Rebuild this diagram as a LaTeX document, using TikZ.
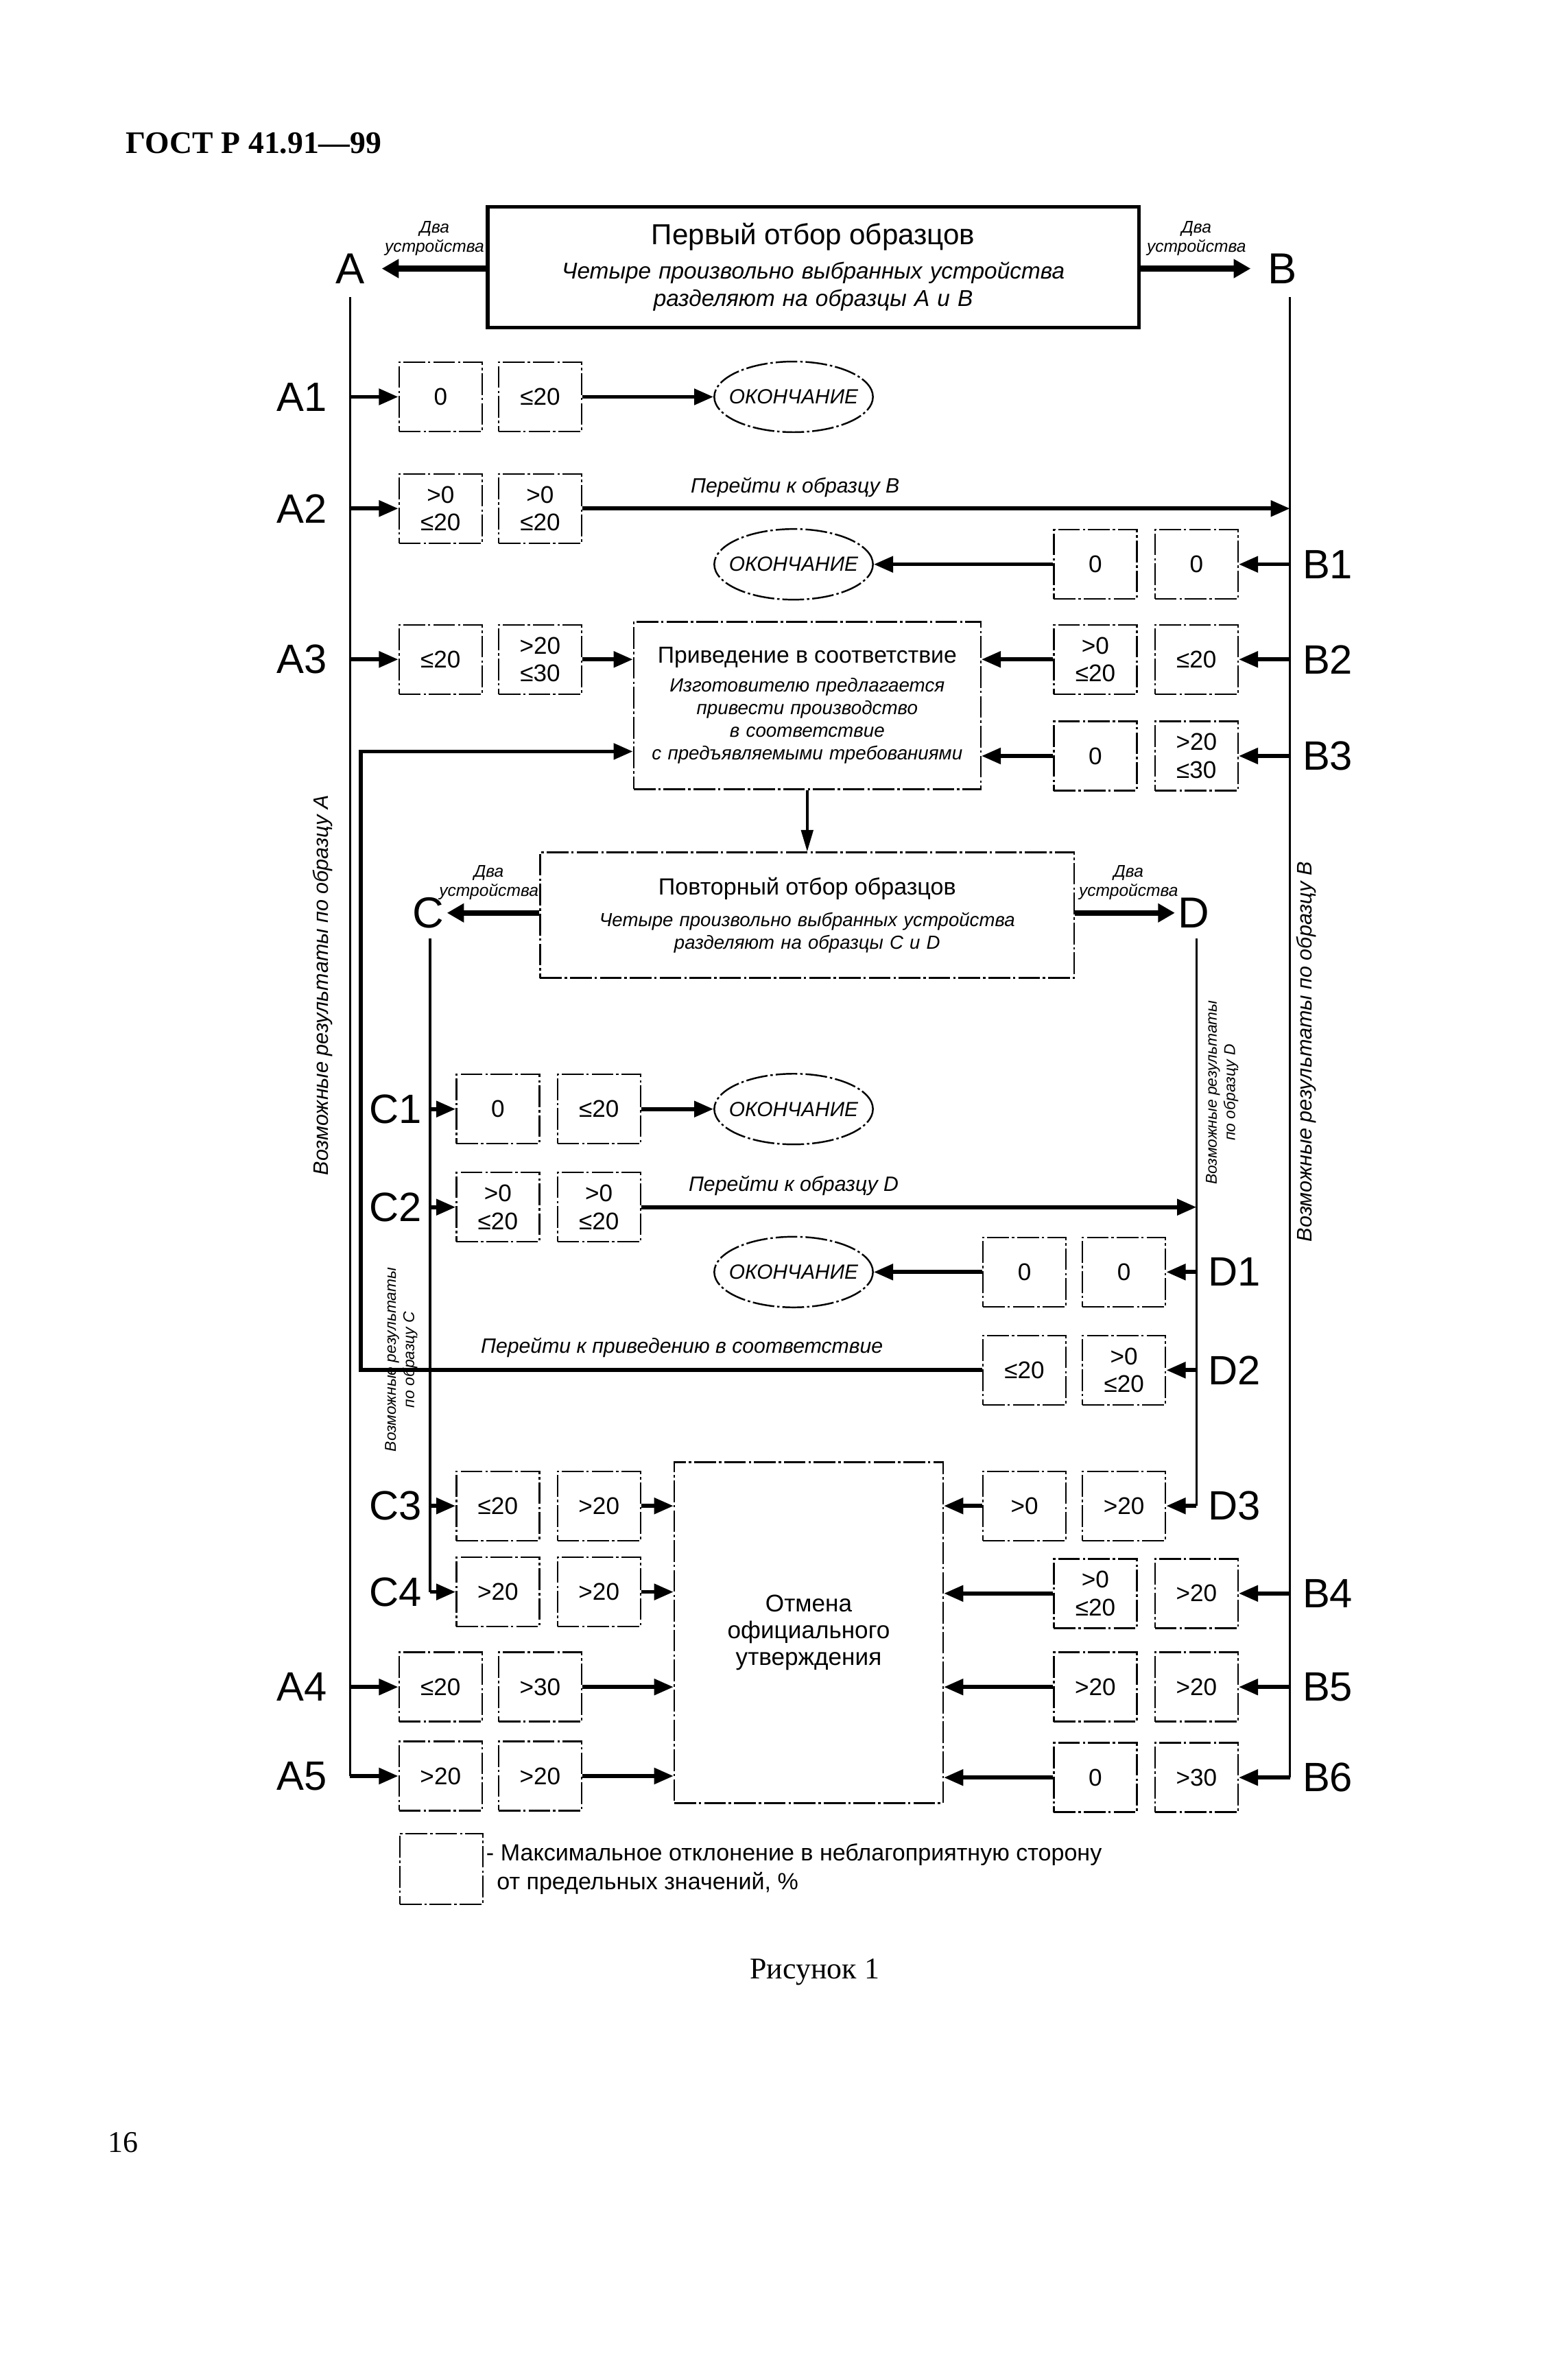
\documentclass[tikz,border=0pt]{standalone}
\usepackage{fontspec}
\setmainfont{Liberation Sans}
\newfontfamily\gostserif{Liberation Serif}
\usetikzlibrary{arrows.meta,shapes.geometric}

\tikzset{
  dashdot/.style={line width=0.7pt, dash pattern=on 9pt off 1.2pt on 1pt off 1.2pt},
  cell/.style={draw, dashdot, minimum width=1.21cm, minimum height=1.01cm, inner sep=1pt,
    align=center, font=\fontsize{10}{11.5}\selectfont},
  panel/.style={draw, dashdot, align=center, inner sep=0pt},
  finish/.style={ellipse, draw, dashdot, minimum width=2.29cm, minimum height=1.03cm,
    inner xsep=-3.5pt, inner ysep=0pt, font=\itshape\fontsize{8.5}{10}\selectfont},
  rowlbl/.style={inner sep=0pt, font=\fontsize{17}{17}\selectfont},
  letter/.style={inner ysep=0pt, font=\fontsize{18}{18}\selectfont},
  rail/.style={line width=1pt},
  flow/.style={line width=1.6pt, -{Triangle[length=8pt,width=6.5pt]}},
  split/.style={line width=2.4pt, -{Triangle[length=7pt,width=7.5pt]}},
  hint/.style={inner sep=0pt, font=\itshape\fontsize{8.6}{10}\selectfont},
  twodev/.style={inner sep=0pt, align=center, font=\itshape\fontsize{7}{8}\selectfont},
  side/.style={rotate=90, inner sep=0pt, align=center, font=\itshape\fontsize{8.7}{10}\selectfont}
}

\begin{document}
\begin{tikzpicture}[x=0.022cm,y=-0.022cm]
\useasboundingbox (0,0) rectangle (1039,1568);

% page header, caption, page number
\node[anchor=west, font=\gostserif\bfseries\fontsize{13}{13}\selectfont] (gost) at (78,95) {ГОСТ Р 41.91—99};
\node[font=\gostserif\fontsize{12.5}{13}\selectfont] (fig) at (540,1307) {Рисунок 1};
\node[anchor=west, font=\gostserif\fontsize{12.5}{13}\selectfont] (page) at (66,1420) {16};

% first sampling
\node[draw, line width=1.6pt, minimum width=9.5cm, minimum height=1.76cm, text width=9cm, align=center,
  font=\itshape\fontsize{9.5}{11.3}\selectfont] (first) at (539,177)
  {{\upshape\fontsize{12}{14}\selectfont Первый отбор образцов}\\[3pt]
   Четыре произвольно выбранных устройства\\разделяют на образцы A и B};
\node[letter, inner xsep=7pt] (A) at (232,178) {A};
\node[letter, inner xsep=7pt] (B) at (850,178) {B};
\draw[split] (first.west |- A) -- (A);
\draw[split] (first.east |- B) -- (B);
\node[twodev] (twoa) at (288,158) {Два\\устройства};
\node[twodev] (twob) at (793,158) {Два\\устройства};
\coordinate (atop) at (232,197);
\coordinate (btop) at (855,197);

% results for sample A and B
\node[cell] (a1l) at (292,263) {0};
\node[cell] (a1r) at (358,263) {≤20};
\node[finish] (end1) at (526,263) {ОКОНЧАНИЕ};
\node[cell] (a2l) at (292,337) {>0\\≤20};
\node[cell] (a2r) at (358,337) {>0\\≤20};
\node[cell] (b1l) at (726,374) {0};
\node[cell] (b1r) at (793,374) {0};
\node[finish] (end2) at (526,374) {ОКОНЧАНИЕ};
\node[cell] (a3l) at (292,437) {≤20};
\node[cell] (a3r) at (358,437) {>20\\≤30};
\node[cell] (b2l) at (726,437) {>0\\≤20};
\node[cell] (b2r) at (793,437) {≤20};
\node[cell] (b3l) at (726,501) {0};
\node[cell] (b3r) at (793,501) {>20\\≤30};
\node[panel, minimum width=5.06cm, minimum height=2.44cm, text width=4.9cm,
  font=\itshape\fontsize{7.9}{9.4}\selectfont] (conf) at (535,467.5)
  {{\upshape\fontsize{9.6}{12}\selectfont Приведение в соответствие}\\[2.5pt]
   Изготовителю предлагается\\привести производство\\в соответствие\\с предъявляемыми требованиями};

\node[rowlbl] (la1) at (200,263) {A1};
\node[rowlbl] (la2) at (200,337) {A2};
\node[rowlbl] (la3) at (200,437) {A3};
\node[rowlbl] (lb1) at (880,374) {B1};
\node[rowlbl] (lb2) at (880,437) {B2};
\node[rowlbl] (lb3) at (880,501) {B3};

\draw[flow] (atop |- a1l) -- (a1l);
\draw[flow] (a1r) -- (end1);
\draw[flow] (atop |- a2l) -- (a2l);
\draw[flow] (a2r) -- (a2r -| btop);
\node[hint] (tob) at (527,323) {Перейти к образцу B};
\draw[flow] (btop |- b1r) -- (b1r);
\draw[flow] (b1l) -- (end2);
\draw[flow] (atop |- a3l) -- (a3l);
\draw[flow] (a3r) -- (a3r -| conf.west);
\draw[flow] (btop |- b2r) -- (b2r);
\draw[flow] (b2l) -- (b2l -| conf.east);
\draw[flow] (btop |- b3r) -- (b3r);
\draw[flow] (b3l) -- (b3l -| conf.east);

% repeated sampling
\node[panel, minimum width=7.79cm, minimum height=1.83cm, text width=7.6cm,
  font=\itshape\fontsize{7.85}{9.4}\selectfont] (second) at (535,606.5)
  {{\upshape\fontsize{9.7}{12}\selectfont Повторный отбор образцов}\\[3.5pt]
   Четыре произвольно выбранных устройства\\разделяют на образцы C и D};
\draw[line width=1pt, -{Triangle[length=9pt,width=5pt]}] (conf) -- (second);
\node[letter, inner xsep=1pt] (C) at (284,605) {C};
\node[letter, inner xsep=1pt] (D) at (791,605) {D};
\draw[split] (second.west |- C) -- (C);
\draw[split] (second.east |- D) -- (D);
\node[twodev] (twoc) at (324,585) {Два\\устройства};
\node[twodev] (twod) at (748,585) {Два\\устройства};
\coordinate (ctop) at (285,622);
\coordinate (dtop) at (793,622);

% results for sample C and D
\node[cell] (c1l) at (330,735) {0};
\node[cell] (c1r) at (397,735) {≤20};
\node[finish] (end3) at (526,735) {ОКОНЧАНИЕ};
\node[cell] (c2l) at (330,800) {>0\\≤20};
\node[cell] (c2r) at (397,800) {>0\\≤20};
\node[cell] (d1l) at (679,843) {0};
\node[cell] (d1r) at (745,843) {0};
\node[finish] (end4) at (526,843) {ОКОНЧАНИЕ};
\node[cell] (d2l) at (679,908) {≤20};
\node[cell] (d2r) at (745,908) {>0\\≤20};
\node[cell] (c3l) at (330,998) {≤20};
\node[cell] (c3r) at (397,998) {>20};
\node[cell] (d3l) at (679,998) {>0};
\node[cell] (d3r) at (745,998) {>20};
\node[cell] (c4l) at (330,1055) {>20};
\node[cell] (c4r) at (397,1055) {>20};

\node[rowlbl] (lc1) at (262,735) {C1};
\node[rowlbl] (lc2) at (262,800) {C2};
\node[rowlbl] (lc3) at (262,998) {C3};
\node[rowlbl] (lc4) at (262,1055) {C4};
\node[rowlbl] (ld1) at (818,843) {D1};
\node[rowlbl] (ld2) at (818,908) {D2};
\node[rowlbl] (ld3) at (818,998) {D3};

% cancellation
\node[panel, minimum width=3.92cm, minimum height=4.97cm, font=\fontsize{10}{11}\selectfont] (cancel) at (536,1082)
  {Отмена\\официального\\утверждения};

% remaining results for A and B
\node[cell] (b4l) at (726,1056) {>0\\≤20};
\node[cell] (b4r) at (793,1056) {>20};
\node[cell] (a4l) at (292,1118) {≤20};
\node[cell] (a4r) at (358,1118) {>30};
\node[cell] (b5l) at (726,1118) {>20};
\node[cell] (b5r) at (793,1118) {>20};
\node[cell] (a5l) at (292,1177) {>20};
\node[cell] (a5r) at (358,1177) {>20};
\node[cell] (b6l) at (726,1178) {0};
\node[cell] (b6r) at (793,1178) {>30};

\node[rowlbl] (la4) at (200,1118) {A4};
\node[rowlbl] (la5) at (200,1177) {A5};
\node[rowlbl] (lb4) at (880,1056) {B4};
\node[rowlbl] (lb5) at (880,1118) {B5};
\node[rowlbl] (lb6) at (880,1178) {B6};

% rails
\draw[rail] (atop) -- (atop |- a5l);
\draw[flow] (atop |- a5l) -- (a5l);
\draw[rail] (btop) -- (btop |- b6r);
\draw[flow] (btop |- b6r) -- (b6r);
\draw[rail] (ctop) -- (ctop |- c4l);
\draw[flow] (ctop |- c4l) -- (c4l);
\draw[rail] (dtop) -- (dtop |- d3r);
\draw[flow] (dtop |- d3r) -- (d3r);

\draw[flow] (ctop |- c1l) -- (c1l);
\draw[flow] (c1r) -- (end3);
\draw[flow] (ctop |- c2l) -- (c2l);
\draw[flow] (c2r) -- (c2r -| dtop);
\node[hint] (tod) at (526,786) {Перейти к образцу D};
\draw[flow] (dtop |- d1r) -- (d1r);
\draw[flow] (d1l) -- (end4);
\draw[flow] (dtop |- d2r) -- (d2r);
\coordinate (back) at (239,498);
\draw[flow] (d2l) -| (back) -- (back -| conf.west);
\node[hint] (toconf) at (452,893) {Перейти к приведению в соответствие};
\draw[flow] (ctop |- c3l) -- (c3l);
\draw[flow] (c3r) -- (c3r -| cancel.west);
\draw[flow] (d3l) -- (d3l -| cancel.east);
\draw[flow] (c4r) -- (c4r -| cancel.west);
\draw[flow] (atop |- a4l) -- (a4l);
\draw[flow] (a4r) -- (a4r -| cancel.west);
\draw[flow] (a5r) -- (a5r -| cancel.west);
\draw[flow] (btop |- b4r) -- (b4r);
\draw[flow] (b4l) -- (b4l -| cancel.east);
\draw[flow] (btop |- b5r) -- (b5r);
\draw[flow] (b5l) -- (b5l -| cancel.east);
\draw[flow] (b6l) -- (b6l -| cancel.east);

% side notes
\node[side] (sidea) at (214,653) {Возможные результаты по образцу A};
\node[side] (sideb) at (866,697) {Возможные результаты по образцу B};
\node[side, font=\itshape\fontsize{6.5}{7.6}\selectfont] (sidec) at (266,901) {Возможные результаты\\по образцу C};
\node[side, font=\itshape\fontsize{6.5}{7.6}\selectfont] (sided) at (810,724) {Возможные результаты\\по образцу D};

% legend
\node[cell, minimum height=1.03cm] (key) at (292.5,1238.5) {};
\node[anchor=west, align=left, inner sep=0pt, font=\fontsize{9.7}{12}\selectfont] (keytext) at (322,1238.5)
  {- Максимальное отклонение в неблагоприятную сторону\\\hspace{0.45em}от предельных значений, \%};
\end{tikzpicture}
\end{document}
